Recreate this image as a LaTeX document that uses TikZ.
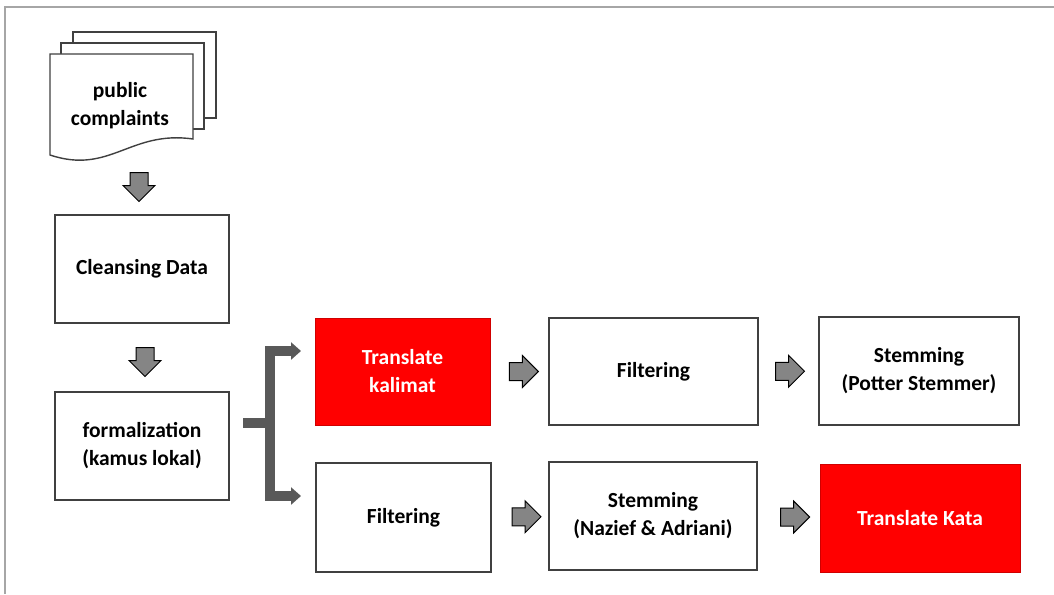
\documentclass[tikz,border=0pt]{standalone}
\usepackage{fontspec}
\setmainfont{Carlito}
\usetikzlibrary{arrows.meta, shapes.arrows, calc}
\definecolor{my_red}{HTML}{FF0000}
\definecolor{my_darkred}{HTML}{D00000}
\definecolor{my_darkgray}{HTML}{404040}
\definecolor{my_gray}{HTML}{858585}
\definecolor{my_fork}{HTML}{595959}
\definecolor{my_frame}{HTML}{A6A6A6}

\begin{document}
\begin{tikzpicture}[
    x=1pt, y=-1pt,
    txt/.style={font=\fontsize{21.5}{28}\selectfont\bfseries, align=center},
    box/.style={txt, draw=my_darkgray, line width=1.4pt, fill=white,
        minimum width=#1, minimum height=108pt, inner sep=0pt},
    redbox/.style={txt, draw=my_darkred, line width=0.8pt, fill=my_red,
        text=white, minimum width=#1, minimum height=108pt, inner sep=0pt},
    blockarrow/.style={shape=single arrow, draw=black, line width=1pt,
        fill=my_gray, minimum height=29pt, inner xsep=0pt, inner ysep=8.5pt,
        single arrow head extend=7pt},
    fork/.style={my_fork, line width=10pt},
    page/.style={draw=my_darkgray, line width=1.4pt, fill=white}
]
\useasboundingbox (0,0) rectangle (1054,594);

% Rahmen (nur oben und links sichtbar)
\draw[my_frame, line width=1.5pt] (5,594) -- (5,7) -- (1054,7);

% Dokumentenstapel
\draw[page] (73,118) -- (73,32) -- (216,32) -- (216,118) -- cycle;
\draw[page] (61,129) -- (61,43) -- (204,43) -- (204,129) -- cycle;
\draw[page] (50,155) -- (50,54) -- (193,54) -- (193,139)
    .. controls (130,130) and (110,175) .. (50,155) -- cycle;
\node[txt] (complaints) at (120,106) {public\\complaints};

% linke Spalte
\node[box=174pt] (cleansing) at (142,269) {Cleansing Data};
\node[box=174pt] (formal) at (142,446) {formalization\\(kamus lokal)};

% obere Reihe
\node[redbox=175pt, minimum height=107pt] (kalimat) at (402.5,371.5) {Translate\\kalimat};
\node[box=209pt, minimum height=107pt] (filterA) at (653.5,371.5) {Filtering};
\node[box=200pt] (stemA) at (919,371) {Stemming\\(Potter Stemmer)};

% untere Reihe
\node[box=175pt, minimum height=109pt] (filterB) at (403.5,517.5) {Filtering};
\node[box=208pt] (stemB) at (653,516) {Stemming\\(Nazief \& Adriani)};
\node[redbox=200pt] (kata) at (920,518) {Translate Kata};

% Blockpfeile
\node[blockarrow, rotate=-90] (down1) at (139,182.5) {};
\node[blockarrow, rotate=-90] (down2) at ($(cleansing.south)!0.5!(formal.north) + (3,0)$) {};
\node[blockarrow] (right1) at ($(kalimat.east)!0.5!(filterA.west)$) {};
\node[blockarrow] (right2) at ($(filterA.east)!0.5!(stemA.west) + (-3,0)$) {};
\node[blockarrow] (right3) at ($(filterB.east)!0.5!(stemB.west) + (2,0)$) {};
\node[blockarrow] (right4) at ($(stemB.east)!0.5!(kata.west) + (2,0)$) {};

% Verzweigung
\coordinate (fork) at (270,423);
\coordinate (forkin) at (243,423);
\coordinate (forkup) at (301,351);
\coordinate (forkdown) at (301,496);
\draw[fork] (forkin) -- (fork);
\draw[fork, miter limit=10, {Triangle[length=10pt, width=17pt]}-{Triangle[length=10pt, width=17pt]}]
    (forkup) -- (270,351) -- (270,496) -- (forkdown);

\end{tikzpicture}
\end{document}
